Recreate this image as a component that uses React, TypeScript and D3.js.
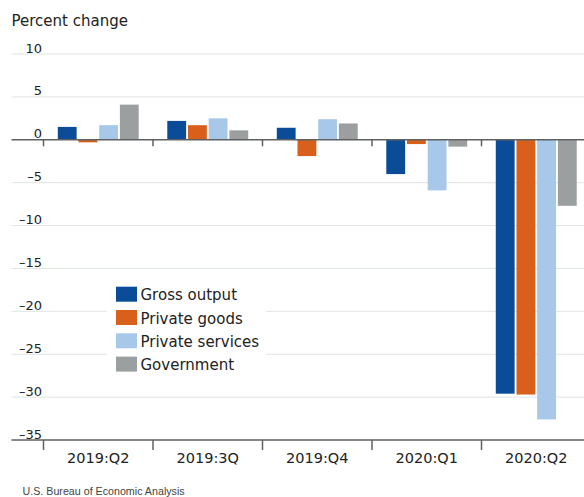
import React from "react";
import * as d3 from "d3";

const categories = ["2019:Q2", "2019:3Q", "2019:Q4", "2020:Q1", "2020:Q2"];
const seriesNames = ["Gross output", "Private goods", "Private services", "Government"];
const grossOutput = [1.5, 2.2, 1.4, -4.0, -29.6];
const privateGoods = [-0.3, 1.7, -1.9, -0.5, -29.7];
const privateServices = [1.7, 2.5, 2.4, -5.9, -32.6];
const government = [4.1, 1.1, 1.9, -0.8, -7.7];
const yTicks = [10, 5, 0, -5, -10, -15, -20, -25, -30, -35];
const colors = ["#0a4c97", "#d9601a", "#a8c8ea", "#9c9fa0"];

const W = 584;
const H = 497;
const FONT = "'DejaVu Sans', sans-serif";

export default function App() {
  const seriesValues = [grossOutput, privateGoods, privateServices, government];
  const y = d3.scaleLinear().domain([-35, 10]).range([440, 54]);
  const x0 = d3.scaleBand<string>().domain(categories).range([43.5, 591]).padding(0);
  const x1 = d3
    .scaleBand<string>()
    .domain(seriesNames)
    .range([0, x0.bandwidth()])
    .paddingInner(0.09)
    .paddingOuter(0.69);
  const fmt = (v: number) => (v < 0 ? "\u2013" + Math.abs(v) : String(v));
  const boundaries = categories.map((c) => x0(c) as number);

  return (
    <div style={{ position: "absolute", left: 0, top: 0 }}>
      <svg width={W} height={H} style={{ display: "block", background: "#fff" }}>
        <text x={11.5} y={25.5} fontFamily={FONT} fontSize={15} fill="#222">
          Percent change
        </text>
        {yTicks.map((t) => (
          <g key={t}>
            {t !== 0 && t !== -35 && (
              <line x1={11.5} x2={W} y1={y(t)} y2={y(t)} stroke="#dfe4e4" strokeWidth={1} />
            )}
            <text
              x={42}
              y={y(t) - 1.5}
              textAnchor="end"
              fontFamily={FONT}
              fontSize={13}
              fill="#222"
            >
              {fmt(t)}
            </text>
          </g>
        ))}
        {/* legend background */}
        <rect x={107} y={279} width={159} height={100} fill="#fff" />
        {/* bars */}
        {categories.map((c, ci) => (
          <g key={c} transform={`translate(${x0(c)},0)`}>
            {seriesNames.map((s, si) => {
              const v = seriesValues[si][ci];
              return (
                <rect
                  key={s}
                  x={x1(s)}
                  width={x1.bandwidth()}
                  y={Math.min(y(v), y(0))}
                  height={Math.abs(y(v) - y(0))}
                  fill={colors[si]}
                />
              );
            })}
          </g>
        ))}
        {/* zero line */}
        <line x1={11.5} x2={W} y1={y(0)} y2={y(0)} stroke="#5f6062" strokeWidth={1.6} />
        {boundaries.map((b, i) => (
          <line key={"zt" + i} x1={b} x2={b} y1={y(0)} y2={y(0) + 6.5} stroke="#5f6062" strokeWidth={1.5} />
        ))}
        {/* bottom axis */}
        <line x1={11.5} x2={W} y1={y(-35)} y2={y(-35)} stroke="#5f6062" strokeWidth={1.6} />
        {boundaries.map((b, i) => (
          <line key={"bt" + i} x1={b} x2={b} y1={y(-35)} y2={y(-35) + 10} stroke="#5f6062" strokeWidth={1.5} />
        ))}
        {categories.map((c) => (
          <text
            key={"xl" + c}
            x={(x0(c) as number) + x0.bandwidth() / 2}
            y={463}
            textAnchor="middle"
            fontFamily={FONT}
            fontSize={14.5}
            fill="#222"
          >
            {c}
          </text>
        ))}
        {/* legend */}
        {seriesNames.map((s, i) => (
          <g key={"lg" + s} transform={`translate(116,${286.7 + i * 23.3})`}>
            <rect x={0} y={0} width={21} height={15} fill={colors[i]} />
            <text x={24.5} y={13.5} fontFamily={FONT} fontSize={15} fill="#222">
              {s}
            </text>
          </g>
        ))}
        <text x={22.5} y={494.5} fontFamily="'Liberation Sans', Arial, sans-serif" fontSize={10.7} fill="#444">
          U.S. Bureau of Economic Analysis
        </text>
      </svg>
    </div>
  );
}
